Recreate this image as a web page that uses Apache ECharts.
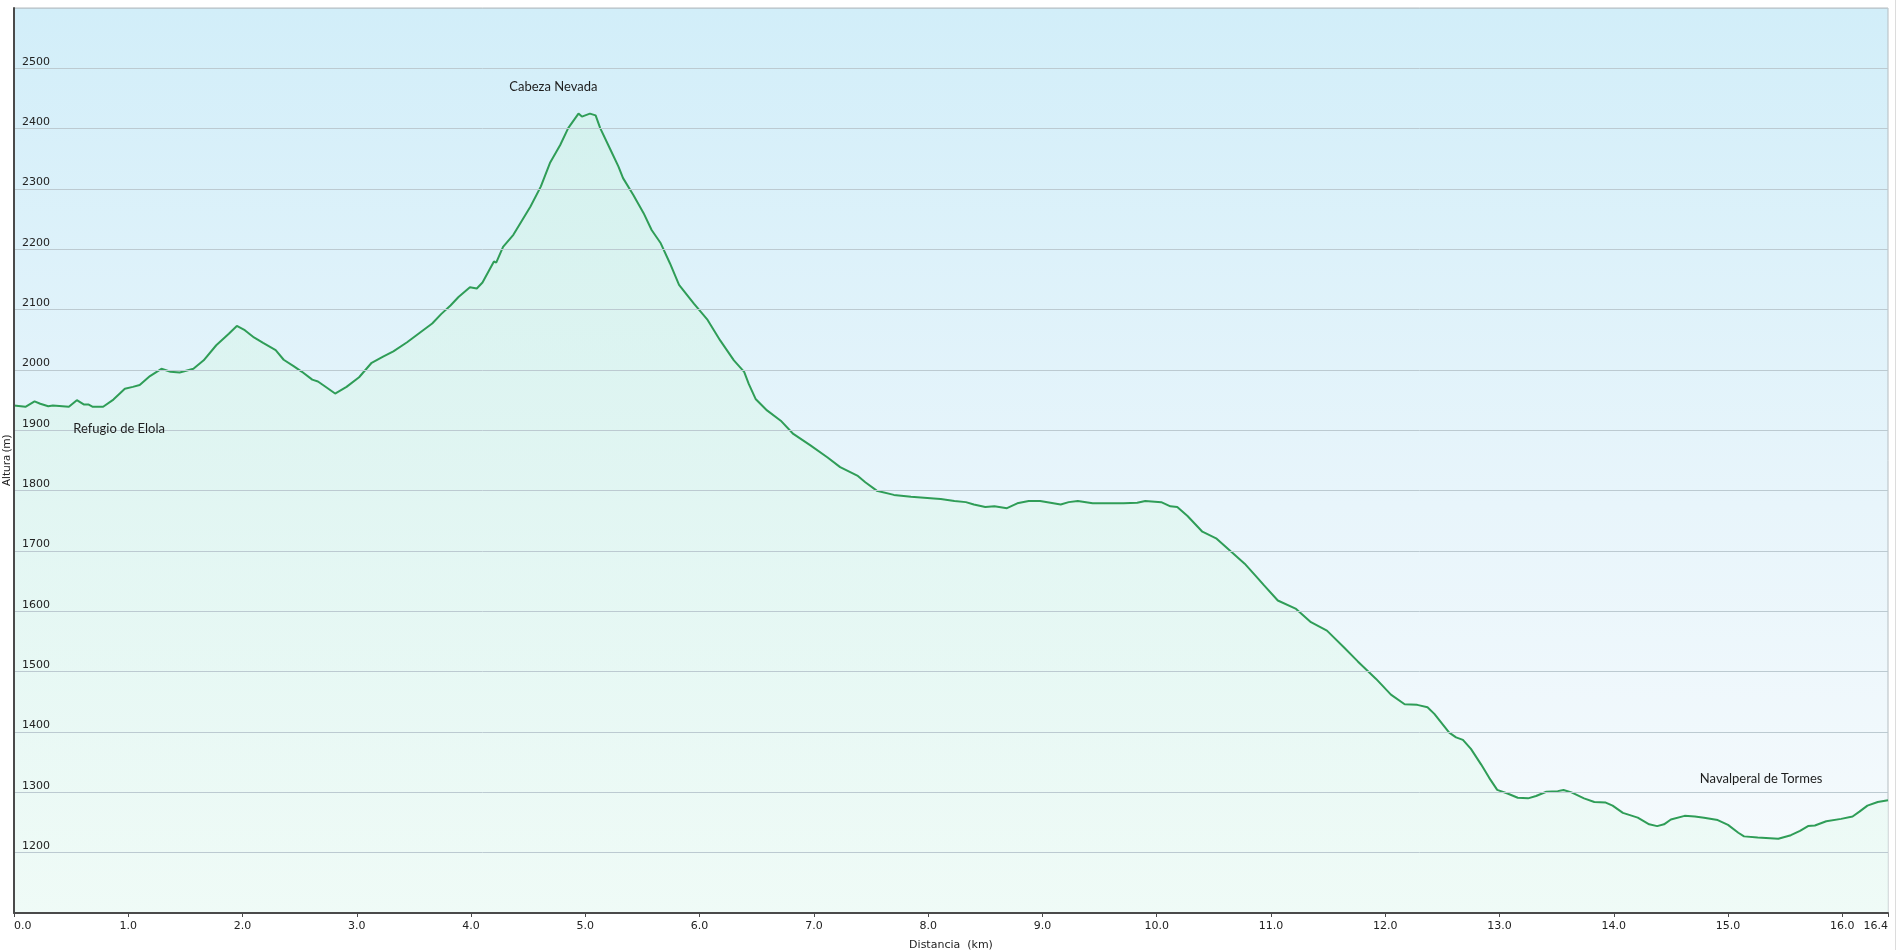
<!DOCTYPE html>
<html>
<head>
<meta charset="utf-8">
<script src="https://cdn.jsdelivr.net/npm/echarts@6/dist/echarts.min.js"></script>
<style>
html,body{margin:0;padding:0;background:#fff;}
#chart{width:1898px;height:950px;}
</style>
</head>
<body>
<div id="chart"></div>
<script>
// Distance along the route (km)
const distKm = [
  0.00, 0.10, 0.18, 0.23, 0.30, 0.34, 0.48, 0.55, 0.61, 0.65, 0.69, 0.78, 0.87, 0.97,
  1.04, 1.10, 1.19, 1.29, 1.37, 1.45, 1.57, 1.66, 1.77, 1.88, 1.95, 2.02, 2.10, 2.18,
  2.29, 2.36, 2.45, 2.52, 2.61, 2.66, 2.72, 2.81, 2.91, 3.02, 3.13, 3.23, 3.32, 3.44,
  3.56, 3.66, 3.74, 3.82, 3.89, 3.99, 4.05, 4.10, 4.20, 4.22, 4.28, 4.37, 4.52, 4.61,
  4.69, 4.78, 4.85, 4.94, 4.97, 5.04, 5.09, 5.13, 5.22, 5.29, 5.33, 5.42, 5.51, 5.58,
  5.66, 5.74, 5.82, 5.95, 6.07, 6.18, 6.30, 6.39, 6.43, 6.49, 6.59, 6.71, 6.82, 6.97,
  7.12, 7.23, 7.38, 7.45, 7.55, 7.70, 7.85, 8.05, 8.11, 8.23, 8.33, 8.40, 8.50, 8.58,
  8.69, 8.78, 8.88, 8.98, 9.07, 9.16, 9.23, 9.31, 9.44, 9.57, 9.71, 9.83, 9.90, 10.04,
  10.12, 10.18, 10.27, 10.40, 10.52, 10.65, 10.77, 10.88, 10.94, 11.06, 11.22, 11.35,
  11.49, 11.64, 11.76, 11.92, 12.05, 12.17, 12.28, 12.37, 12.43, 12.56, 12.62, 12.68,
  12.75, 12.84, 12.91, 12.98, 13.07, 13.16, 13.25, 13.32, 13.41, 13.51, 13.56, 13.63,
  13.74, 13.83, 13.93, 13.99, 14.08, 14.21, 14.31, 14.38, 14.44, 14.50, 14.62, 14.71,
  14.79, 14.91, 15.00, 15.09, 15.14, 15.26, 15.44, 15.55, 15.63, 15.70, 15.76, 15.86,
  15.99, 16.09, 16.15, 16.22, 16.31, 16.40
];
// Altitude (m)
const altM = [
  1941, 1939, 1948, 1944, 1940, 1941, 1939, 1950, 1943, 1943, 1939, 1939, 1951, 1969,
  1972, 1975, 1990, 2002, 1997, 1996, 2002, 2016, 2041, 2060, 2073, 2066, 2054, 2045,
  2033, 2017, 2006, 1997, 1984, 1981, 1973, 1961, 1972, 1988, 2012, 2022, 2031, 2046,
  2063, 2077, 2093, 2107, 2121, 2137, 2135, 2145, 2180, 2178, 2204, 2224, 2271, 2304,
  2343, 2373, 2401, 2425, 2420, 2425, 2422, 2401, 2365, 2337, 2318, 2290, 2260, 2232,
  2210, 2177, 2141, 2110, 2083, 2049, 2016, 1997, 1977, 1952, 1933, 1916, 1894, 1875,
  1855, 1839, 1825, 1814, 1800, 1793, 1790, 1787, 1786, 1783, 1781, 1777, 1773, 1774,
  1771, 1779, 1783, 1783, 1780, 1777, 1781, 1783, 1779, 1779, 1779, 1780, 1783, 1781,
  1774, 1773, 1758, 1732, 1721, 1699, 1679, 1656, 1643, 1618, 1604, 1582,
  1568, 1540, 1517, 1488, 1462, 1446, 1445, 1441, 1430, 1399, 1391, 1387,
  1372, 1346, 1324, 1304, 1298, 1291, 1290, 1294, 1301, 1302, 1304, 1300,
  1290, 1284, 1283, 1278, 1266, 1258, 1247, 1244, 1247, 1255, 1261, 1260,
  1258, 1254, 1246, 1233, 1227, 1225, 1223, 1229, 1236, 1244, 1245, 1252,
  1256, 1260, 1268, 1278, 1284, 1287
];
// Place names and where their labels sit (km, m)
const placeNames = ['Refugio de Elola', 'Cabeza Nevada', 'Navalperal de Tormes'];
const placeKm = [0.92, 4.72, 15.29];
const placeAlt = [1902, 2469, 1322];

const yMin = 1100, yMax = 2600, yStep = 100;
const xMin = 0, xMax = 16.4, xStep = 1;

const chart = echarts.init(document.getElementById('chart'));
const seriesData = distKm.map((d, i) => [d, altM[i]]);
const marks = placeNames.map((n, i) => ({ name: n, coord: [placeKm[i], placeAlt[i]] }));

chart.setOption({
  animation: false,
  backgroundColor: '#ffffff',
  grid: {
    left: 14, right: 10, top: 8, bottom: 37,
    containLabel: false,
    outerBoundsMode: 'none',
    show: true,
    borderColor: '#b4bcc0',
    borderWidth: 1,
    backgroundColor: new echarts.graphic.LinearGradient(0, 0, 0, 1, [
      { offset: 0, color: '#d2eef9' },
      { offset: 0.55, color: '#e8f5fb' },
      { offset: 1, color: '#f7fbfd' }
    ])
  },
  graphic: [
    { type: 'rect', right: 2, top: 0, shape: { width: 1, height: 950 }, style: { fill: '#dcdcdc' } }
  ],
  xAxis: {
    type: 'value',
    min: xMin, max: xMax, interval: xStep,
    z: 5,
    name: 'Distancia  (km)',
    nameLocation: 'middle',
    nameGap: 27,
    nameMoveOverlap: false,
    nameTextStyle: { fontFamily: 'DejaVu Sans', fontSize: 11, color: '#222' },
    axisLine: { show: true, lineStyle: { color: '#4a4a4a', width: 2 } },
    axisTick: { show: true, length: 4, lineStyle: { color: '#4a4a4a', width: 1 } },
    axisLabel: {
      fontFamily: 'DejaVu Sans', fontSize: 11, color: '#222', margin: 8,
      formatter: v => v.toFixed(1),
      alignMinLabel: 'left', alignMaxLabel: 'right'
    },
    splitLine: { show: false }
  },
  yAxis: {
    type: 'value',
    min: yMin, max: yMax, interval: yStep,
    z: 5,
    name: 'Altura (m)',
    nameLocation: 'middle',
    nameGap: 2,
    nameMoveOverlap: false,
    nameTextStyle: { fontFamily: 'Noto Sans', fontSize: 11, color: '#222' },
    axisLine: { show: true, lineStyle: { color: '#4a4a4a', width: 2 } },
    axisTick: { show: false },
    axisLabel: {
      inside: true, margin: 8,
      fontFamily: 'DejaVu Sans', fontSize: 11, color: '#222',
      verticalAlign: 'bottom', padding: [0, 0, 1, 0],
      formatter: v => String(v),
      showMinLabel: false, showMaxLabel: false
    },
    splitLine: { show: true, lineStyle: { color: '#bccad1', width: 1 } }
  },
  series: [{
    type: 'line',
    data: seriesData,
    showSymbol: false,
    symbol: 'none',
    lineStyle: { color: '#2f9d57', width: 2 },
    areaStyle: {
      color: new echarts.graphic.LinearGradient(0, 0, 0, 1, [
        { offset: 0, color: '#d3f2ea' },
        { offset: 1, color: '#ecfbf4' }
      ])
    },
    z: 3,
    markPoint: {
      symbol: 'circle', symbolSize: 0,
      label: {
        show: true, position: 'inside',
        formatter: p => p.name,
        fontFamily: 'Lato', fontSize: 13, color: '#1e1e1e'
      },
      data: marks
    }
  }]
});
</script>
</body>
</html>
